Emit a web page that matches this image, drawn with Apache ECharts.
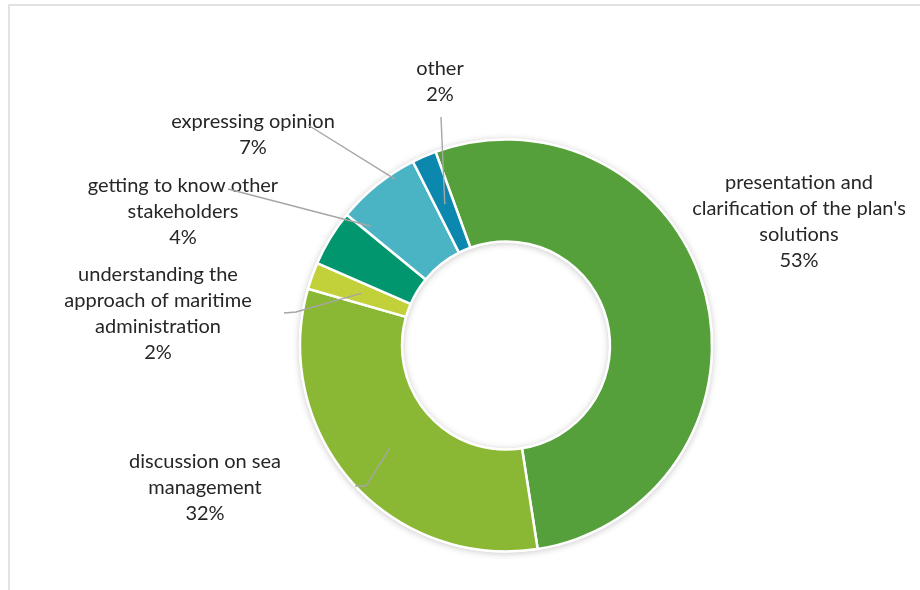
<!DOCTYPE html>
<html>
<head>
<meta charset="utf-8">
<style>
  html, body { margin: 0; padding: 0; background: #fff; }
  #chart { width: 920px; height: 590px; }
</style>
<script src="https://cdn.jsdelivr.net/npm/echarts@6/dist/echarts.min.js"></script>
</head>
<body>
<div id="chart"></div>
<script>
// ---- data ----
var categories = [
  "presentation and\nclarification of the plan's\nsolutions",
  "discussion on sea\nmanagement",
  "understanding the\napproach of maritime\nadministration",
  "getting to know other\nstakeholders",
  "expressing opinion",
  "other"
];
var shares = [53.1, 31.9, 2.1, 4.4, 6.6, 1.9];

// ---- styling / layout (not data) ----
var colors = ['#55A03B', '#8BB834', '#C2D03A', '#02966F', '#4BB4C4', '#0C88AE'];
var startDeg = -20;           // clockwise from 12 o'clock
var centerPct = [0.55, 0.5856];
var rInner = 104, rOuter = 206;
// label centre, label-side leader points, anchor angle offset & radius
var labelLayouts = [
  { c: [799, 222], line: null },
  { c: [205, 488], line: [[355, 486], [366, 486]], dA: 0, r: 155 },
  { c: [158, 314], line: [[284, 313], [296, 312]], dA: 0, r: 154 },
  { c: [183, 212], line: [[228, 189]], dA: 10, r: 180 },
  { c: [253, 135], line: [[308, 125]], dA: 5, r: 200 },
  { c: [440, 82],  line: [[441, 117]], dA: 0, r: 154 }
];

var chart = echarts.init(document.getElementById('chart'), null, { renderer: 'canvas' });
var W = chart.getWidth(), H = chart.getHeight();
var cx = W * centerPct[0], cy = H * centerPct[1];
var total = shares.reduce(function (a, b) { return a + b; }, 0);
var midAngles = [];
(function () {
  var acc = startDeg;
  shares.forEach(function (v) {
    var span = v / total * 360;
    midAngles.push(acc + span / 2);
    acc += span;
  });
})();

var data = categories.map(function (n, i) {
  return { name: n, value: shares[i], itemStyle: { color: colors[i] } };
});

// leader lines drawn on top of the ring, anchored by slice geometry
var leaderGraphics = [];
labelLayouts.forEach(function (L, i) {
  if (!L.line) return;
  var a = (midAngles[i] + L.dA) * Math.PI / 180;
  var anchor = [cx + L.r * Math.sin(a), cy - L.r * Math.cos(a)];
  leaderGraphics.push({
    type: 'polyline',
    z: 100,
    silent: true,
    shape: { points: L.line.concat([anchor]) },
    style: { stroke: '#a6a6a6', lineWidth: 1.4, fill: null }
  });
});

var option = {
  backgroundColor: '#fff',
  animation: false,
  graphic: [{
    type: 'rect',
    shape: { x: 9, y: 5, width: 1000, height: 1000 },
    style: { fill: 'none', stroke: '#d9d9d9', lineWidth: 1.5 },
    silent: true
  }].concat(leaderGraphics),
  series: [{
    type: 'pie',
    silent: true,
    center: [(centerPct[0] * 100) + '%', (centerPct[1] * 100) + '%'],
    radius: [rInner - 1, rOuter + 1],
    startAngle: 90 - startDeg,
    clockwise: true,
    label: { show: false },
    labelLine: { show: false },
    itemStyle: { color: '#fff', shadowBlur: 7, shadowColor: 'rgba(0,0,0,0.22)', shadowOffsetY: 1 },
    data: [{ value: 1, name: '' }],
    z: 1
  }, {
    type: 'pie',
    center: [(centerPct[0] * 100) + '%', (centerPct[1] * 100) + '%'],
    radius: [rInner, rOuter],
    startAngle: 90 - startDeg,
    clockwise: true,
    avoidLabelOverlap: false,
    itemStyle: { borderColor: '#fff', borderWidth: 2.5 },
    label: {
      show: true,
      position: 'outside',
      formatter: function (p) { return p.name + '\n' + Math.round(p.percent) + '%'; },
      fontFamily: 'Lato',
      fontSize: 20,
      lineHeight: 26,
      color: '#262626',
      align: 'center'
    },
    labelLine: { show: false },
    labelLayout: function (p) {
      var L = labelLayouts[p.dataIndex];
      return { x: L.c[0], y: L.c[1], align: 'center', verticalAlign: 'middle' };
    },
    data: data,
    z: 2
  }]
};
chart.setOption(option);
</script>
</body>
</html>
